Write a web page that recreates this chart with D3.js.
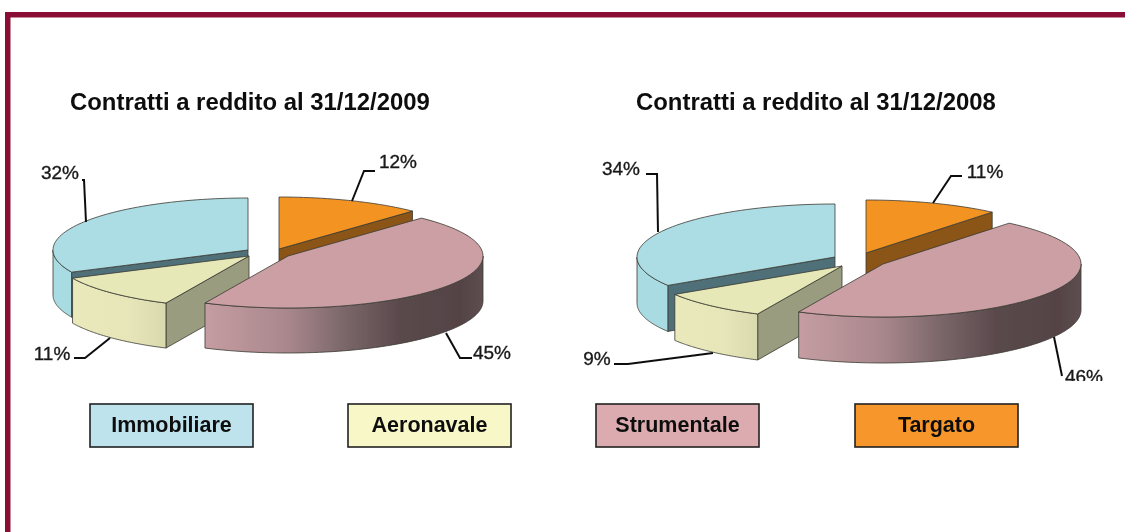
<!DOCTYPE html>
<html>
<head>
<meta charset="utf-8">
<script src="https://cdn.jsdelivr.net/npm/d3@7"></script>
<style>
	html, body { margin: 0; padding: 0; background: #fff; }
	svg { display: block; font-family: "Liberation Sans", Arial, sans-serif; }
</style>
</head>
<body>
<svg id="chart" width="1125" height="532"></svg>
<script>
// categories in the order they go round the pie, clockwise from 12 o'clock
const CATEGORIES = ['Targato', 'Strumentale', 'Aeronavale', 'Immobiliare'];
const VALUES_2009 = [12, 45, 11, 32];
const VALUES_2008 = [11, 46, 9, 34];
const TITLE_2009 = 'Contratti a reddito al 31/12/2009';
const TITLE_2008 = 'Contratti a reddito al 31/12/2008';
const LEGEND_ORDER = ['Immobiliare', 'Aeronavale', 'Strumentale', 'Targato'];

const TOP_COLORS = ['#f39324', '#cb9fa4', '#e7e8b7', '#acdde5'];
const FACE_COLORS = ['#8a5414', '#000', '#9a9c80', '#4f6f78'];
const LEGEND_COLORS = ['#bfe3ec', '#f8f7c8', '#dcabb0', '#f7962c'];

// exploded slice centres, by slice
const PIE_2009 = {
	rx: 195, ry: 52, depth: 45,
	centers: { Targato: [279, 249], Strumentale: [288, 256], Aeronavale: [249, 256], Immobiliare: [248, 250] }
};
const PIE_2008 = {
	rx: 198, ry: 53, depth: 46,
	centers: { Targato: [866, 253], Strumentale: [883, 264], Aeronavale: [842, 266], Immobiliare: [835, 257] }
};

const svg = d3.select('#chart');
const defs = svg.append('defs');

const blur = defs.append('filter').attr('id', 'soft');
blur.append('feGaussianBlur').attr('stdDeviation', 0.45);

const top_color = d3.scaleOrdinal().domain(CATEGORIES).range(TOP_COLORS);
const face_color = d3.scaleOrdinal().domain(CATEGORIES).range(FACE_COLORS);
const legend_color = d3.scaleOrdinal().domain(LEGEND_ORDER).range(LEGEND_COLORS);
const pie = d3.pie().sort(null);
const line = d3.line();

function wallGradient(id, x0, x1, stops) {
	const g = defs.append('linearGradient').attr('id', id)
		.attr('gradientUnits', 'userSpaceOnUse')
		.attr('x1', x0).attr('x2', x1).attr('y1', 0).attr('y2', 0);
	stops.forEach(s => g.append('stop').attr('offset', s[0]).attr('stop-color', s[1]));
	return 'url(#' + id + ')';
}

function drawPie(parent, values, cfg, prefix) {
	const slices = pie(values).map((d, i) => ({ ...d, name: CATEGORIES[i] }));
	const point = (d, a, r, h) => {
		const c = cfg.centers[d.name];
		return [c[0] + cfg.rx * r * Math.sin(a), c[1] - cfg.ry * r * Math.cos(a) + (h || 0)];
	};
	const arcPoints = (d, a0, a1, h) => d3.range(0, 61).map(k => point(d, a0 + (a1 - a0) * k / 60, 1, h));

	// painter's order: back slices first
	['Immobiliare', 'Targato', 'Aeronavale', 'Strumentale'].forEach(name => {
		const d = slices.find(s => s.name === name);
		const g = parent.append('g');
		const stroke = { stroke: '#3a3a32', width: 0.8 };

		// faces cut along the radius
		let face = null;
		if (name !== 'Strumentale') {
			const a = name === 'Targato' ? d.endAngle : d.startAngle;
			face = [point(d, a, 0), point(d, a, 1), point(d, a, 1, cfg.depth), point(d, a, 0, cfg.depth)];
		}
		if (face) {
			g.append('path').attr('d', line(face) + 'Z')
				.attr('fill', face_color(name))
				.attr('stroke', stroke.stroke).attr('stroke-width', stroke.width);
		}

		// outer wall, only the part that faces the viewer (90deg to 270deg)
		const w0 = Math.max(d.startAngle, Math.PI / 2);
		const w1 = Math.min(d.endAngle, Math.PI * 1.5);
		if (w1 > w0) {
			let fill = '#a9dbe3';
			if (name === 'Aeronavale') {
				fill = wallGradient(prefix + 'aero', point(d, w1, 1)[0], point(d, w0, 1)[0],
					[[0, '#e9e9bb'], [0.6, '#e6e6b9'], [1, '#d9d9ae']]);
			}
			if (name === 'Strumentale') {
				fill = wallGradient(prefix + 'str', point(d, w1, 1)[0], point(d, w0, 1)[0],
					[[0, '#c59da2'], [0.3, '#a8878c'], [0.5, '#7b676a'], [0.7, '#5a494c'], [0.92, '#544346'], [1, '#5e4e51']]);
			}
			const wall = arcPoints(d, w0, w1, 0).concat(arcPoints(d, w1, w0, cfg.depth));
			g.append('path').attr('d', line(wall) + 'Z')
				.attr('fill', fill)
				.attr('stroke', stroke.stroke).attr('stroke-width', stroke.width);
		}

		// top surface
		const top = [point(d, d.startAngle, 0)].concat(arcPoints(d, d.startAngle, d.endAngle, 0));
		g.append('path').attr('d', line(top) + 'Z')
			.attr('fill', top_color(name))
			.attr('stroke', stroke.stroke).attr('stroke-width', stroke.width);
	});
}

// polyline leaders and their labels
const LABELS_2009 = [
	{ text: '32%', x: 60, y: 172, leader: [[82, 180], [84, 180], [86, 222]] },
	{ text: '12%', x: 398, y: 161, leader: [[375, 171], [364, 171], [352, 201]] },
	{ text: '11%', x: 52, y: 353, leader: [[74, 358], [85, 358], [110, 338]] },
	{ text: '45%', x: 492, y: 352, leader: [[472, 358], [460, 358], [446, 333]] }
];
const LABELS_2008 = [
	{ text: '34%', x: 621, y: 168, leader: [[646, 174], [657, 174], [658, 232]] },
	{ text: '11%', x: 985, y: 171, leader: [[962, 176], [951, 176], [933, 203]] },
	{ text: '9%', x: 597, y: 358, leader: [[614, 364], [628, 364], [713, 353]] },
	{ text: '46%', x: 1084, y: 376, leader: [[1054, 337], [1062, 376]] }
];

const art = svg.append('g').attr('filter', 'url(#soft)');

function drawLabels(items) {
	items.forEach(l => {
		art.append('path').attr('d', line(l.leader))
			.attr('fill', 'none').attr('stroke', '#111').attr('stroke-width', 2);
		art.append('text').text(l.text)
			.attr('x', l.x).attr('y', l.y + 6.5)
			.attr('text-anchor', 'middle')
			.attr('font-size', 19).attr('fill', '#1a1a1a')
			.attr('stroke', '#1a1a1a').attr('stroke-width', 0.35);
	});
}

drawPie(art.append('g'), VALUES_2009, PIE_2009, 'a');
drawPie(art.append('g'), VALUES_2008, PIE_2008, 'b');
drawLabels(LABELS_2009);
drawLabels(LABELS_2008);

// the source picture is cut just under the 46% label
art.append('rect').attr('x', 1040).attr('y', 381).attr('width', 85).attr('height', 12).attr('fill', '#fff');

art.append('text').text(TITLE_2009).attr('x', 70).attr('y', 110)
	.attr('font-size', 23.9).attr('font-weight', 'bold').attr('fill', '#111');
art.append('text').text(TITLE_2008).attr('x', 636).attr('y', 110)
	.attr('font-size', 23.9).attr('font-weight', 'bold').attr('fill', '#111');

// legend boxes
const legend_x = d3.scaleOrdinal().domain(LEGEND_ORDER).range([90, 348, 596, 855]);
const legend = art.selectAll('g.legend').data(LEGEND_ORDER).enter().append('g').attr('class', 'legend');
legend.append('rect')
	.attr('x', d => legend_x(d)).attr('y', 404)
	.attr('width', 163).attr('height', 43)
	.attr('fill', d => legend_color(d))
	.attr('stroke', '#222').attr('stroke-width', 1.6);
legend.append('text').text(d => d)
	.attr('x', d => legend_x(d) + 81.5).attr('y', 431.5)
	.attr('text-anchor', 'middle')
	.attr('font-size', 21.5).attr('font-weight', 'bold').attr('fill', '#111');

// frame
art.append('rect').attr('x', 5).attr('y', 12).attr('width', 1120).attr('height', 5.5).attr('fill', '#8a0f35');
art.append('rect').attr('x', 5).attr('y', 12).attr('width', 5.5).attr('height', 520).attr('fill', '#8a0f35');
</script>
</body>
</html>
